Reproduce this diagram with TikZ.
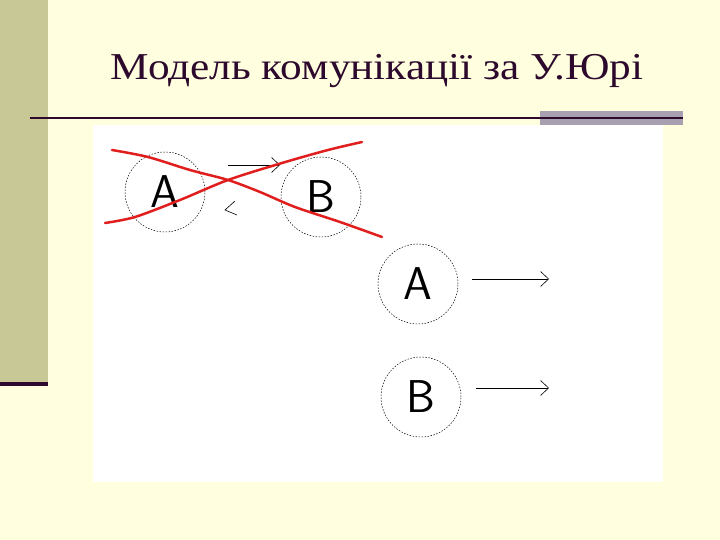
\documentclass[tikz,border=0pt]{standalone}
\usepackage{fontspec}
\setmainfont{Liberation Serif}
\usetikzlibrary{arrows.meta}

\definecolor{slidebg}{RGB}{255,255,224}
\definecolor{sidebar}{RGB}{200,200,150}
\definecolor{plum}{RGB}{45,10,45}
\definecolor{rulegray}{RGB}{168,160,176}
\definecolor{crossred}{RGB}{225,30,30}

\tikzset{
    party/.style={draw, circle, dash pattern=on 1.5pt off 1.5pt, line width=0.5pt,
        minimum size=80pt, inner sep=0pt, font=\sffamily\fontsize{46}{46}\selectfont},
    msg/.style={-{Straight Barb[length=8pt,width=15pt]}, line width=0.6pt},
    cross/.style={crossred, line width=2.5pt, line cap=round}
}

\begin{document}
\begin{tikzpicture}[x=1pt, y=-1pt]
    \useasboundingbox (0,0) rectangle (720,540);
    \fill[slidebg] (0,0) rectangle (720,540);
    \fill[sidebar] (0,0) rectangle (48,382);
    \fill[plum] (0,382) rectangle (48,386);

    \node[text=plum, font=\fontsize{38}{38}\selectfont, anchor=base, xscale=1.14] (title) at (377,80) {Модель комунікації за У.Юрі};

    \fill[white] (93,125) rectangle (663,482);
    \fill[rulegray] (540,111) rectangle (683,125);
    \draw[plum, line width=2pt] (30,118) -- (683,118);

    \node[party] (a) at (165,192) {A};
    \node[party] (b) at (321,197) {B};
    \node[party] (atwo) at (418,284) {A};
    \node[party] (btwo) at (421,397) {B};

    \coordinate (abfrom) at (228,165);
    \coordinate (abto) at (280,165);
    \coordinate (atwofrom) at (472,279);
    \coordinate (atwoto) at (549,279);
    \coordinate (btwofrom) at (476,388);
    \coordinate (btwoto) at (549,388);

    \draw[msg] (abfrom) -- (abto);
    \draw[line width=0.6pt] (235,201) -- (225,210) -- (237,215);
    \draw[msg] (atwofrom) -- (atwoto);
    \draw[msg] (btwofrom) -- (btwoto);

    \draw[cross] plot[smooth] coordinates {(112,150) (148,157) (190,170) (228,180) (260,192) (295,207) (340,222) (382,237)};
    \draw[cross] plot[smooth] coordinates {(105,223) (135,217) (180,200) (228,180) (282,163) (328,150) (362,142)};
\end{tikzpicture}
\end{document}
